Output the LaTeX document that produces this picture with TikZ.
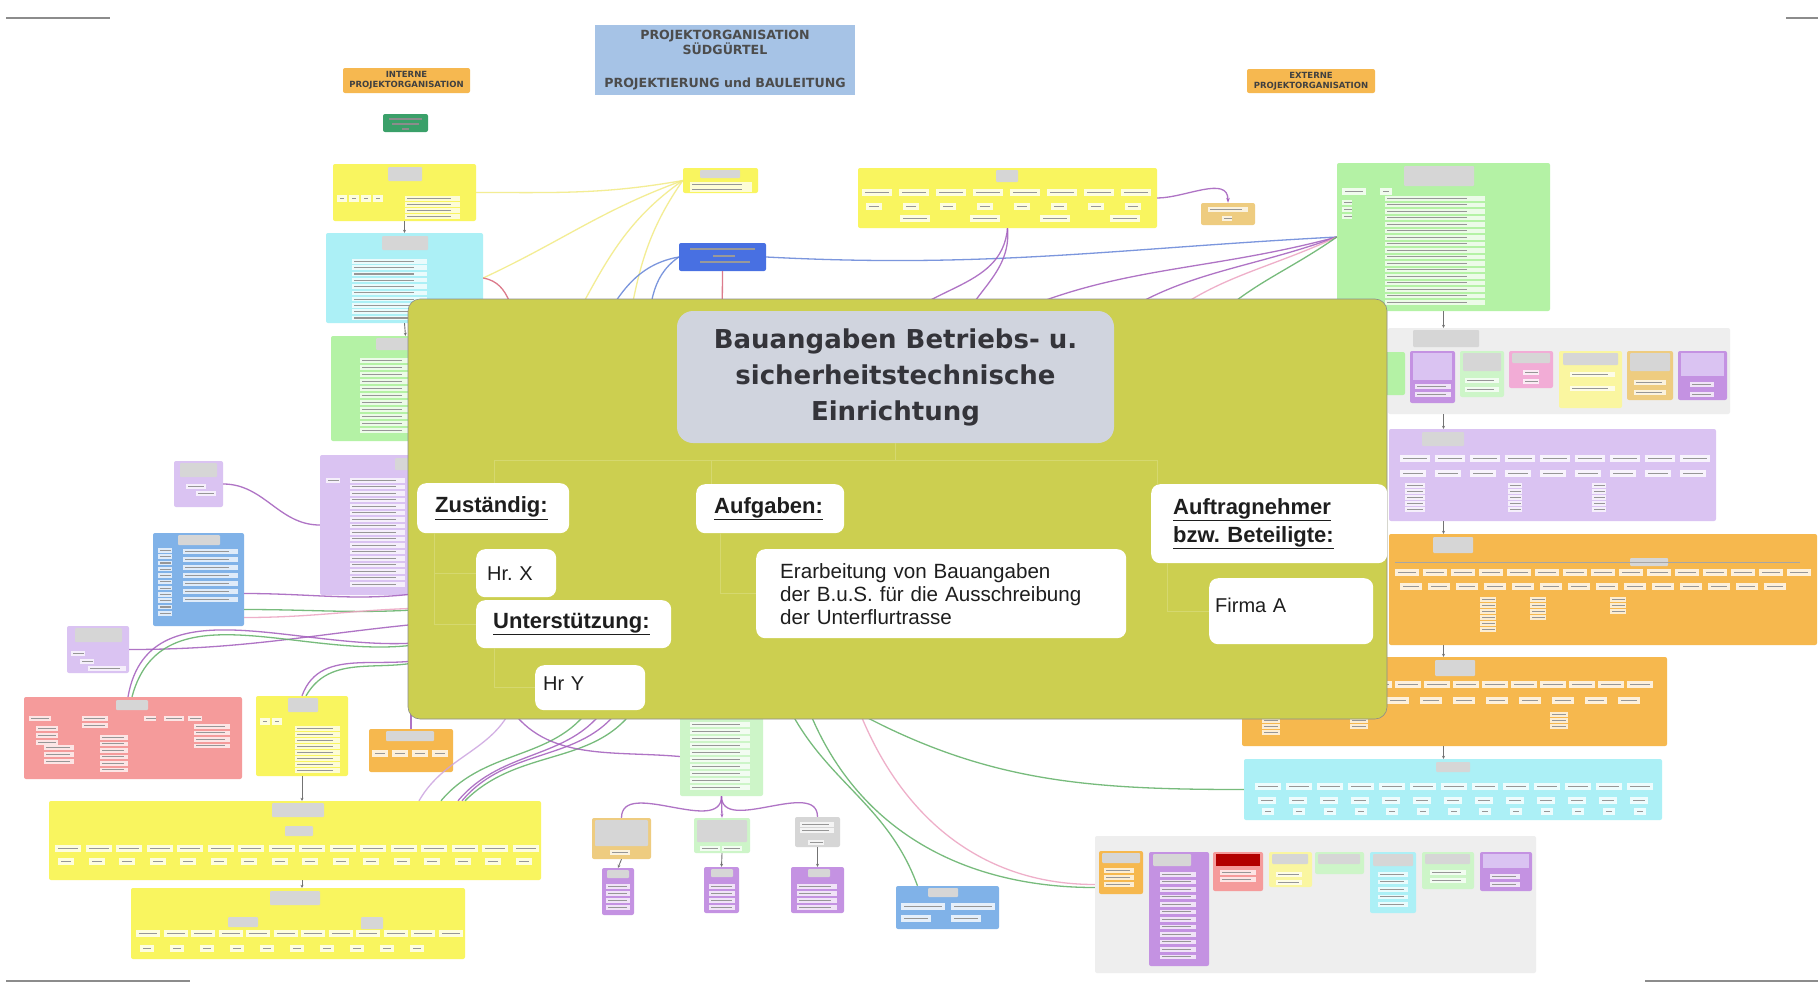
\documentclass[tikz,border=0pt]{standalone}
\usepackage{fontspec}
\setmainfont{Liberation Sans}
\newfontfamily\dejab{DejaVu Sans}
\usetikzlibrary{fit,arrows.meta}
\frenchspacing

% palette
\definecolor{panelc}{RGB}{204,207,80}
\definecolor{headc}{RGB}{208,212,222}
\definecolor{titlec}{RGB}{166,195,230}
\definecolor{orgc}{RGB}{246,184,80}
\definecolor{darkgreen}{RGB}{58,160,105}
\definecolor{bgyellow}{RGB}{249,245,95}
\definecolor{bgcyan}{RGB}{172,240,246}
\definecolor{bggreen}{RGB}{180,242,165}
\definecolor{bglgreen}{RGB}{205,245,200}
\definecolor{bglav}{RGB}{218,195,242}
\definecolor{bgblue}{RGB}{128,178,232}
\definecolor{bgred}{RGB}{245,155,155}
\definecolor{bgorange}{RGB}{246,184,78}
\definecolor{bggrey}{RGB}{238,238,238}
\definecolor{bgpurple}{RGB}{196,146,226}
\definecolor{bgpink}{RGB}{242,172,214}
\definecolor{bgtan}{RGB}{238,204,128}
\definecolor{bglyellow}{RGB}{250,246,160}
\definecolor{bgstrong}{RGB}{72,112,226}
\definecolor{hdrc}{RGB}{214,214,214}
\definecolor{rowc}{RGB}{150,150,150}
\definecolor{capc}{RGB}{140,140,140}
\definecolor{ly}{RGB}{242,234,130}
\definecolor{lb}{RGB}{100,132,216}
\definecolor{lp}{RGB}{162,92,188}
\definecolor{lg}{RGB}{96,176,102}
\definecolor{lr}{RGB}{214,100,120}
\definecolor{lpk}{RGB}{236,162,192}
\definecolor{llp}{RGB}{204,164,224}
\definecolor{inkc}{RGB}{30,30,30}
\definecolor{headink}{RGB}{52,52,58}

\newcommand\fsz[2]{\fontsize{#1}{#2}\selectfont}
% background mind-map box
\newcommand\bgn[6]{\node[bgbox, fill=#6, fit={(#2,#3)(#4,#5)}] (#1) {};}
% grey heading plate inside a box
\newcommand\hdr[4]{\fill[hdrc, rounded corners=1pt] (#1,#2) rectangle ++(#3,#4);}
% stacked lines of small print
\newcommand\txtrows[5]{\foreach \k in {1,...,#3}{%
  \fill[white, opacity=.75] (#1,{#2+(\k-1)*#5}) rectangle ++(#4,4.5);
  \fill[rowc] ({#1+2},{#2+(\k-1)*#5+1.7}) rectangle ++({#4*0.8},1.2);}}
% a row of small item plates
\newcommand\items[5]{\foreach \k in {1,...,#3}{%
  \fill[white, opacity=.8] ({#1+(\k-1)*#4},#2) rectangle ++(#5,7);
  \fill[rowc] ({#1+(\k-1)*#4+3},{#2+3}) rectangle ++({#5-6},1.2);}}

\begin{document}
\begin{tikzpicture}[x=1pt,y=-1pt,
  bgbox/.style={rounded corners=2pt, inner sep=0pt, draw=none},
  conn/.style={line width=1.3pt, opacity=.85},
  tree/.style={line width=.9pt, black!55, -{Stealth[length=3pt,width=3pt]}},
  panel/.style={fill=panelc, draw=black!45, line width=.6pt, rounded corners=12pt, inner sep=0pt},
  headbox/.style={fill=headc, rounded corners=16pt, inner sep=0pt, align=center,
    text=headink, font=\dejab\bfseries\fsz{26}{36}},
  wbox/.style={fill=white, rounded corners=9pt, inner ysep=0pt, anchor=north west,
    align=left, text=inkc, font=\fsz{20}{23}},
  lab/.style={font=\bfseries\fsz{22}{28}},
  orgbox/.style={fill=orgc, rounded corners=2pt, inner sep=0pt, align=center,
    text=black!75, font=\dejab\bfseries\fsz{8.5}{10}},
  faint/.style={panelc!82!white, line width=.9pt}
]
\useasboundingbox (0,0) rectangle (1820,985);
\fill[white] (0,0) rectangle (1820,985);

% small print in the corners
\fill[capc] (6,16.5) rectangle (110,18.5);
\fill[capc] (1786,16.5) rectangle (1818,18.5);
\fill[capc] (6,979.5) rectangle (190,981.5);
\fill[capc] (1645,979.5) rectangle (1818,981.5);

% headings
\node[fill=titlec, inner sep=0pt, minimum width=260pt, minimum height=70pt,
  align=center, text=black!70, font=\dejab\bfseries\fsz{12.6}{14}] (title) at (725,60)
  {PROJEKTORGANISATION\\SÜDGÜRTEL\\[19pt]PROJEKTIERUNG und BAULEITUNG};
\node[orgbox, minimum width=127pt, minimum height=25pt] (intern) at (406.5,80.5)
  {INTERNE\\PROJEKTORGANISATION};
\node[orgbox, minimum width=128pt, minimum height=24pt] (extern) at (1311,81)
  {EXTERNE\\PROJEKTORGANISATION};
\bgn{gr}{383}{114}{428}{132}{darkgreen}
\fill[black!45] (389,118) rectangle (422,119.5);
\fill[black!45] (392,123) rectangle (419,124.5);
\fill[black!45] (402,128) rectangle (409,129.5);

% ---------- internal project organisation (left) ----------
\bgn{n1}{333}{164}{476}{221}{bgyellow}
\hdr{388}{167}{34}{14} \items{337}{195}{4}{12}{10} \txtrows{405}{196}{4}{55}{6}
\bgn{n2}{326}{233}{483}{323}{bgcyan}
\hdr{382}{236}{46}{14} \txtrows{352}{259}{10}{75}{6.3}
\bgn{n3}{331}{336}{480}{441}{bggreen}
\hdr{376}{338}{40}{12} \txtrows{360}{358}{11}{50}{7}
\bgn{n4}{320}{455}{480}{595}{bglav}
\hdr{395}{458}{20}{12} \txtrows{350}{478}{17}{55}{6.5} \txtrows{326}{478}{1}{14}{1}
\bgn{n5}{174}{461}{223}{507}{bglav}
\hdr{180}{463}{37}{14} \txtrows{186}{484}{1}{20}{1} \txtrows{196}{491}{1}{20}{1}
\bgn{n6}{153}{533}{244}{626}{bgblue}
\hdr{178}{535}{42}{10} \txtrows{158}{548}{11}{14}{6.3} \txtrows{183}{549}{7}{55}{8}
\bgn{n7}{67}{626}{129}{673}{bglav}
\hdr{75}{628}{47}{14} \txtrows{71}{651}{1}{14}{1} \txtrows{80}{659}{1}{14}{1} \txtrows{88}{666}{1}{38}{1}
\bgn{n8}{24}{697}{242}{779}{bgred}
\hdr{116}{700}{32}{10} \txtrows{29}{716}{1}{22}{1} \txtrows{36}{726}{3}{22}{7}
\txtrows{44}{745}{3}{30}{7} \txtrows{82}{716}{2}{26}{7} \txtrows{100}{735}{6}{28}{6.5}
\txtrows{144}{716}{1}{12}{1} \txtrows{164}{716}{1}{20}{1} \txtrows{188}{716}{1}{14}{1}
\txtrows{194}{724}{4}{36}{6.5}
\bgn{n9}{256}{696}{348}{776}{bgyellow}
\hdr{288}{698}{30}{14} \items{260}{718}{2}{12}{10} \txtrows{295}{726}{8}{45}{6}
\bgn{n10}{369}{729}{453}{772}{bgorange}
\hdr{386}{731}{48}{10} \items{372}{750}{4}{20}{16}
\bgn{n11}{49}{801}{541}{880}{bgyellow}
\hdr{272}{803}{52}{14} \hdr{285}{826}{28}{10}
\items{55}{845}{16}{30.5}{26} \items{58}{858}{16}{30.5}{16}
\bgn{n12}{131}{888}{465}{959}{bgyellow}
\hdr{270}{891}{50}{14} \hdr{228}{917}{30}{10} \hdr{361}{917}{22}{12}
\items{136}{930}{12}{27.5}{24} \items{140}{945}{10}{30}{14}

% ---------- centre ----------
\bgn{n17}{683}{168}{758}{193}{bgyellow}
\hdr{700}{170}{40}{8} \txtrows{690}{182}{2}{62}{5}
\bgn{n18}{679}{243}{766}{271}{bgstrong}
\fill[black!40] (690,248) rectangle (755,249.5);
\fill[black!40] (713,255) rectangle (735,256.5);
\fill[black!40] (700,261) rectangle (750,262.5);
\bgn{n19}{858}{168}{1157}{228}{bgyellow}
\hdr{996}{170}{22}{12} \items{862}{189}{8}{37}{30} \items{866}{203}{8}{37}{16}
\items{900}{215}{4}{70}{30}
\bgn{n20}{1201}{203}{1255}{225}{bgtan}
\txtrows{1208}{207}{1}{40}{1} \txtrows{1222}{216}{1}{10}{1}

\bgn{n28}{680}{717}{763}{796}{bglgreen}
\txtrows{690}{722}{10}{60}{7}
\bgn{c1}{592}{818}{651}{859}{bgtan}
\hdr{595}{820}{53}{26} \txtrows{610}{850}{1}{20}{7}
\bgn{c2}{694}{818}{750}{853}{bglgreen}
\hdr{697}{820}{50}{22} \txtrows{700}{846}{1}{20}{7} \txtrows{722}{846}{1}{20}{7}
\bgn{c3}{795}{817}{840}{847}{hdrc}
\txtrows{800}{822}{2}{34}{6} \txtrows{808}{840}{1}{16}{7}
\bgn{d1}{602}{868}{634}{915}{bgpurple}
\hdr{607}{870}{22}{8} \txtrows{606}{884}{4}{24}{7}
\bgn{d2}{704}{867}{739}{913}{bgpurple}
\hdr{711}{869}{22}{8} \txtrows{709}{884}{4}{26}{7}
\bgn{d3}{791}{867}{844}{913}{bgpurple}
\hdr{808}{869}{22}{8} \txtrows{797}{884}{4}{40}{7}
\bgn{n29}{896}{886}{999}{929}{bgblue}
\hdr{928}{888}{30}{9} \items{901}{903}{2}{50}{44} \items{901}{915}{2}{50}{30}

% ---------- external project organisation (right) ----------
\bgn{n21}{1337}{163}{1550}{311}{bggreen}
\hdr{1404}{166}{70}{20} \items{1342}{188}{1}{1}{24} \items{1380}{188}{1}{1}{12}
\txtrows{1342}{200}{3}{10}{7} \txtrows{1385}{196}{17}{100}{6.5}
\bgn{n22}{1388}{328}{1730}{414}{bggrey}
\hdr{1413}{330}{66}{17}
\bgn{p1}{1380}{352}{1405}{395}{bggreen}
\bgn{p2}{1410}{351}{1455}{403}{bgpurple}
\fill[bglav] (1413,353) rectangle (1452,380); \txtrows{1415}{384}{2}{36}{8}
\bgn{p3}{1460}{351}{1504}{397}{bglgreen}
\hdr{1463}{353}{38}{18} \txtrows{1465}{378}{2}{34}{9}
\bgn{p4}{1509}{351}{1553}{388}{bgpink}
\hdr{1512}{353}{38}{10} \txtrows{1523}{370}{2}{16}{9}
\bgn{p5}{1559}{351}{1622}{408}{bglyellow}
\hdr{1563}{353}{55}{12} \txtrows{1570}{372}{2}{45}{14}
\bgn{p6}{1627}{351}{1673}{400}{bgtan}
\hdr{1630}{353}{40}{18} \txtrows{1634}{380}{2}{32}{10}
\bgn{p7}{1678}{351}{1727}{400}{bgpurple}
\fill[bglav] (1681,353) rectangle (1724,376); \txtrows{1690}{382}{2}{24}{10}
\bgn{n23}{1389}{429}{1716}{521}{bglav}
\hdr{1422}{432}{42}{14} \items{1400}{455}{9}{35}{30} \items{1400}{470}{9}{35}{26}
\txtrows{1405}{483}{5}{20}{6} \txtrows{1508}{483}{5}{14}{6} \txtrows{1592}{483}{5}{14}{6}
\bgn{n24}{1389}{534}{1817}{645}{bgorange}
\hdr{1433}{537}{40}{16} \hdr{1630}{558}{38}{8}
\draw[black!35, line width=.5pt] (1395,562) -- (1800,562);
\items{1395}{569}{15}{28}{24} \items{1400}{583}{14}{28}{22}
\txtrows{1480}{597}{6}{16}{6} \txtrows{1530}{597}{4}{16}{6} \txtrows{1610}{597}{3}{16}{6}
\bgn{n25}{1242}{657}{1667}{746}{bgorange}
\hdr{1435}{660}{40}{16} \items{1250}{681}{14}{29}{26} \items{1255}{697}{12}{33}{22}
\txtrows{1262}{712}{4}{18}{6} \txtrows{1350}{712}{3}{18}{6} \txtrows{1550}{712}{3}{18}{6}
\bgn{n26}{1244}{759}{1662}{820}{bgcyan}
\hdr{1436}{762}{34}{10} \items{1255}{783}{13}{31}{26} \items{1258}{797}{13}{31}{18}
\items{1262}{808}{13}{31}{12}
\bgn{n27}{1095}{836}{1536}{973}{bggrey}
\bgn{q1}{1099}{851}{1143}{894}{bgorange}
\hdr{1102}{853}{38}{10} \txtrows{1104}{868}{3}{30}{7}
\bgn{q2}{1149}{852}{1209}{966}{bgpurple}
\hdr{1153}{854}{38}{12} \txtrows{1160}{872}{12}{36}{7.5}
\bgn{q3}{1213}{852}{1263}{891}{bgred}
\fill[red!70!black] (1216,854) rectangle (1260,866); \txtrows{1220}{870}{2}{36}{7}
\bgn{q4}{1269}{852}{1312}{887}{bglyellow}
\hdr{1272}{854}{36}{10} \txtrows{1276}{872}{2}{26}{8}
\bgn{q5}{1315}{852}{1364}{874}{bglgreen}
\hdr{1318}{854}{42}{10}
\bgn{q6}{1370}{852}{1416}{913}{bgcyan}
\hdr{1373}{854}{40}{12} \txtrows{1378}{872}{5}{30}{7.5}
\bgn{q7}{1422}{852}{1474}{889}{bglgreen}
\hdr{1425}{854}{45}{10} \txtrows{1430}{870}{2}{36}{8}
\bgn{q8}{1480}{852}{1532}{891}{bgpurple}
\fill[bglav] (1483,854) rectangle (1529,868); \txtrows{1490}{874}{2}{30}{8}

% ---------- hidden ends of links under the panel ----------
\coordinate (h1) at (560,345);
\coordinate (h2) at (625,345);
\coordinate (h3) at (590,345);
\coordinate (h4) at (645,345);
\coordinate (h5) at (722,340);
\coordinate (h6) at (960,340);
\coordinate (h7) at (1085,340);
\coordinate (h8) at (1140,340);
\coordinate (h9) at (1195,340);
\coordinate (h10) at (885,340);
\coordinate (h11) at (955,340);
\coordinate (h12) at (525,340);
\coordinate (hl1) at (440,590);
\coordinate (hl2) at (440,608);
\coordinate (hl3) at (440,622);
\coordinate (hl4) at (440,640);
\coordinate (hl5) at (440,655);
\coordinate (hb0) at (411,700);
\coordinate (hb1) at (595,700);
\coordinate (hb1b) at (610,700);
\coordinate (hb1c) at (625,700);
\coordinate (hb1d) at (640,700);
\coordinate (hb1e) at (515,700);
\coordinate (hb1f) at (505,700);
\coordinate (hb2) at (835,700);
\coordinate (hb3) at (855,700);
\coordinate (hb4) at (785,700);
\coordinate (hb5) at (805,700);

% ---------- links ----------
\draw[conn, ly] (n1.east) to[out=0,in=190] (n17.west);
\draw[conn, ly] (n17.west) to[out=200,in=25] (n2.east);
\draw[conn, ly] (n17.west) to[out=215,in=60] (h1);
\draw[conn, ly] (n17.west) to[out=235,in=80] (h2);
\draw[conn, lb] (n18.west) to[out=190,in=60] (h3);
\draw[conn, lb] (n18.west) to[out=215,in=80] (h4);
\draw[conn, lr] (n18.south) -- (h5);
\draw[conn, lb] (n18.east) to[out=-3,in=183] (n21.west);
\draw[conn, lp] (n21.west) to[out=195,in=30] (h6);
\draw[conn, lp] (n21.west) to[out=200,in=40] (h7);
\draw[conn, lpk] (n21.west) to[out=205,in=45] (h8);
\draw[conn, lg] (n21.west) to[out=215,in=50] (h9);
\draw[conn, lp] (n19.south) to[out=-95,in=60] (h10);
\draw[conn, lp] (n19.south) to[out=-85,in=75] (h11);
\draw[conn, lp, -{Stealth[length=5pt]}] (n19.east) to[out=0,in=90] (n20.north);
\draw[conn, lr] (n2.east) to[out=-10,in=120] (h12);
\draw[conn, lp] (n4.west) to[out=180,in=0] (n5.east);
\draw[conn, lp] (hl1) to[out=190,in=0] ([yshift=-14pt]n6.east);
\draw[conn, lg] (hl2) to[out=185,in=0] ([yshift=-30pt]n6.east);
\draw[conn, lpk] (hl2) to[out=180,in=0] ([yshift=-38pt]n6.east);
\draw[conn, lp] (hl3) to[out=185,in=0] (n7.east);
\draw[conn, lp] (hl4) to[out=190,in=80] ([xshift=-5pt]n8.north);
\draw[conn, lg] (hl4) to[out=195,in=75] ([xshift=-1pt]n8.north);
\draw[conn, lp] (hl5) to[out=200,in=70] (n9.north);
\draw[conn, lg] (hl5) to[out=205,in=60] ([xshift=4pt]n9.north);
\draw[conn, lp] (hb0) -- (n10.north);
\draw[conn, llp] (hb1e) to[out=-110,in=60] ([xshift=124pt]n11.north);
\draw[conn, lg] (hb1) to[out=-120,in=50] ([xshift=146pt]n11.north);
\draw[conn, lp] (hb1b) to[out=-120,in=50] ([xshift=163pt]n11.north);
\draw[conn, lp] (hb1c) to[out=-120,in=50] ([xshift=167pt]n11.north);
\draw[conn, lg] (hb1d) to[out=-120,in=45] ([xshift=170pt]n11.north);
\draw[conn, lp] (hb1f) to[out=-60,in=175] (n28.west);
\draw[conn, lg] (hb2) to[out=-30,in=180] (n26.west);
\draw[conn, lpk] (hb3) to[out=-70,in=180] ([yshift=20pt]n27.west);
\draw[conn, lg] (hb5) to[out=-70,in=180] ([yshift=17pt]n27.west);
\draw[conn, lg] (hb4) to[out=-65,in=110] ([xshift=-30pt]n29.north);
\draw[conn, lp] (n28.south) to[out=-90,in=90] (c1.north);
\draw[conn, lp, -{Stealth[length=4pt]}] (n28.south) -- (c2.north);
\draw[conn, lp] (n28.south) to[out=-90,in=90] (c3.north);
\draw[tree] (c1.south) -- (d1.north);
\draw[tree] (c2.south) -- (d2.north);
\draw[tree] (c3.south) -- (d3.north);
\draw[tree] (n1.south) -- (n2.north);
\draw[tree] (n2.south) -- (n3.north);
\draw[tree] (n9.south) -- (n9.south |- n11.north);
\draw[tree] (n9.south |- n11.south) -- (n9.south |- n12.north);
\draw[tree] (n21.south) -- (n21.south |- n22.north);
\draw[tree] (n21.south |- n22.south) -- (n21.south |- n23.north);
\draw[tree] (n21.south |- n23.south) -- (n21.south |- n24.north);
\draw[tree] (n21.south |- n24.south) -- (n21.south |- n25.north);
\draw[tree] (n21.south |- n25.south) -- (n21.south |- n26.north);

% ---------- the task card ----------
\node[panel, fit={(408,299)(1387,719)}] (panel) {};
\node[headbox, minimum width=437pt, minimum height=132pt] (head) at (895.5,377)
  {Bauangaben Betriebs- u.\\sicherheitstechnische\\Einrichtung};

\node[wbox, lab, minimum width=152pt, minimum height=50pt, text width=116pt, inner xsep=18pt]
  (zust) at (417,483) {\underline{Zuständig:}};
\node[wbox, minimum width=76pt, minimum height=48pt, text width=58pt, inner xsep=11pt]
  (hrx) at (476,549) {Hr. X};
\node[wbox, lab, minimum width=195pt, minimum height=48pt, text width=161pt, inner xsep=17pt]
  (unter) at (476,600) {\underline{Unterstützung:}};
\node[wbox, minimum width=110pt, text width=94pt, inner xsep=8pt, text height=25pt, text depth=20pt]
  (hry) at (535,665) {Hr Y};
\node[wbox, lab, minimum width=148pt, minimum height=49pt, text width=112pt, inner xsep=18pt]
  (aufg) at (696,484) {\underline{Aufgaben:}};
\node[wbox, font=\fsz{20.6}{23}, minimum width=370pt, minimum height=89pt, text width=322pt, inner xsep=24pt]
  (task) at (756,549) {Erarbeitung von Bauangaben\\der B.u.S. für die Ausschreibung\\der Unterflurtrasse};
\node[wbox, lab, minimum width=216pt, minimum height=79pt, text width=192pt, inner xsep=22pt]
  (auftr) at (1151,484) {\underline{Auftragnehmer}\\\underline{bzw. Beteiligte:}};
\node[wbox, minimum width=164pt, text width=152pt, inner xsep=6pt, text height=34pt, text depth=32pt]
  (firma) at (1209,578) {Firma A};

% faint branch lines on the card
\draw[faint] (head.south) -- (head.south |- 0,460);
\draw[faint] (494,460) -- (1157,460);
\draw[faint] (494,460) -- (494,0 |- zust.north);
\draw[faint] (711,460) -- (711,0 |- aufg.north);
\draw[faint] (1157,460) -- (1157,0 |- auftr.north);
\draw[faint] (434,0 |- zust.south) -- (434,0 |- unter.west) -- (unter.west);
\draw[faint] (434,0 |- hrx.west) -- (hrx.west);
\draw[faint] (494,0 |- unter.south) -- (494,0 |- hry.west) -- (hry.west);
\draw[faint] (720,0 |- aufg.south) -- (720,0 |- task.west) -- (task.west);
\draw[faint] (1167,0 |- auftr.south) -- (1167,0 |- firma.west) -- (firma.west);
\end{tikzpicture}
\end{document}
